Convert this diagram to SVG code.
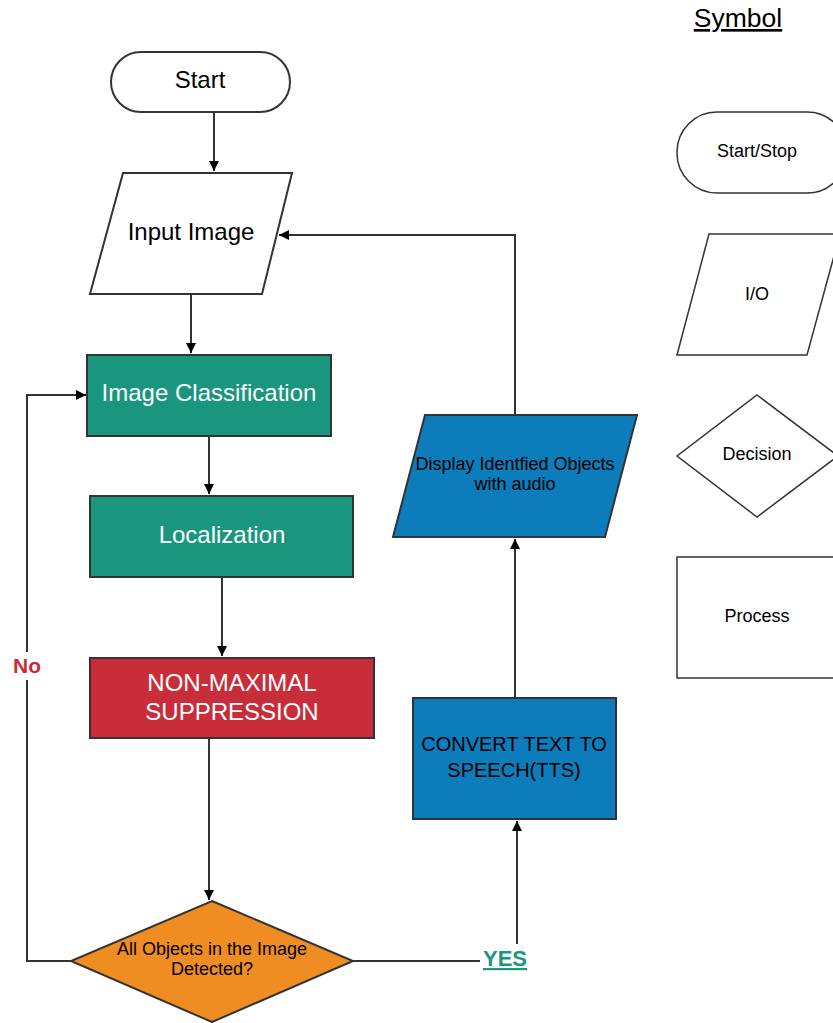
<svg xmlns="http://www.w3.org/2000/svg" width="833" height="1023" viewBox="0 0 833 1023">
<defs>
<style>
.s{stroke:#333;stroke-width:2}
.t{font-family:"Liberation Sans",Arial,sans-serif;text-anchor:middle}
.c{fill:none;stroke:#333;stroke-width:2}
.m{font-size:24px}
.l{font-size:18px}
</style>
<marker id="ah" viewBox="0 0 10 10" refX="10" refY="5" markerWidth="10" markerHeight="10" markerUnits="userSpaceOnUse" orient="auto">
<path d="M0,0 L10,5 L0,10 z" fill="#000"/>
</marker>
</defs>
<rect width="833" height="1023" fill="#fff"/>
<g id="connectors">
<path class="c" d="M214,113 V171" marker-end="url(#ah)"/>
<path class="c" d="M191,295 V353" marker-end="url(#ah)"/>
<path class="c" d="M209,437 V494" marker-end="url(#ah)"/>
<path class="c" d="M222,578 V656" marker-end="url(#ah)"/>
<path class="c" d="M209,739 V900" marker-end="url(#ah)"/>
<path class="c" d="M72,961 H27 V395 H86" marker-end="url(#ah)"/>
<path class="c" d="M353,961 H517 V821" marker-end="url(#ah)"/>
<path class="c" d="M515,698 V539" marker-end="url(#ah)"/>
<path class="c" d="M515,415 V235 H279" marker-end="url(#ah)"/>
<rect x="11" y="652" width="32" height="28" fill="#fff"/>
<text class="t" x="27" y="673" font-size="21" font-weight="bold" fill="#c92d39">No</text>
<rect x="480" y="944" width="50" height="28" fill="#fff"/>
<text class="t" x="505" y="966" font-size="22" font-weight="bold" fill="#19967d" text-decoration="underline">YES</text>
</g>
<g id="start">
<rect class="s" x="111" y="52" width="179" height="60" rx="30" fill="#fff"/>
<text class="t m" x="200" y="87.5">Start</text>
</g>
<g id="input">
<polygon class="s" points="123,173 292,173 262,294 90,294" fill="#fff"/>
<text class="t m" x="191" y="239.5">Input Image</text>
</g>
<g id="classification">
<rect class="s" x="87" y="355" width="244" height="81" fill="#19967d"/>
<text class="t m" x="209" y="400.5" fill="#fff">Image Classification</text>
</g>
<g id="localization">
<rect class="s" x="90" y="496" width="263" height="81" fill="#19967d"/>
<text class="t m" x="222" y="542.5" fill="#fff">Localization</text>
</g>
<g id="nms">
<rect class="s" x="90" y="658" width="284" height="80" fill="#c92d39"/>
<text class="t m" x="232" y="690.5" fill="#fff">NON-MAXIMAL</text>
<text class="t m" x="232" y="719.5" fill="#fff">SUPPRESSION</text>
</g>
<g id="decision">
<polygon class="s" points="212,901 353,961 212,1022 71,961" fill="#ef8d22"/>
<text class="t l" x="212" y="954.5">All Objects in the Image</text>
<text class="t l" x="212" y="974.5">Detected?</text>
</g>
<g id="tts">
<rect class="s" x="413" y="698" width="203" height="121" fill="#0c7cba"/>
<text class="t" x="514" y="751" font-size="20">CONVERT TEXT TO</text>
<text class="t" x="514" y="777" font-size="20">SPEECH(TTS)</text>
</g>
<g id="display">
<polygon class="s" points="425,415 637,415 605,537 393,537" fill="#0c7cba"/>
<text class="t l" x="515" y="470">Display Identfied Objects</text>
<text class="t l" x="515" y="490">with audio</text>
</g>
<g id="legend">
<text class="t" x="738" y="27" font-size="26.5" text-decoration="underline">Symbol</text>
<rect x="677" y="112" width="170" height="81" rx="40" fill="#fff" stroke="#333" stroke-width="1.5"/>
<text class="t l" x="757" y="156.5">Start/Stop</text>
<polygon points="709,234 840,234 807,355 677,355" fill="#fff" stroke="#333" stroke-width="1.5"/>
<text class="t l" x="757" y="299.5">I/O</text>
<polygon points="757,395 838,456 757,517 677,456" fill="#fff" stroke="#333" stroke-width="1.5"/>
<text class="t l" x="757" y="459.5">Decision</text>
<rect x="677" y="557" width="170" height="121" fill="#fff" stroke="#333" stroke-width="1.5"/>
<text class="t l" x="757" y="621.5">Process</text>
</g>
</svg>
